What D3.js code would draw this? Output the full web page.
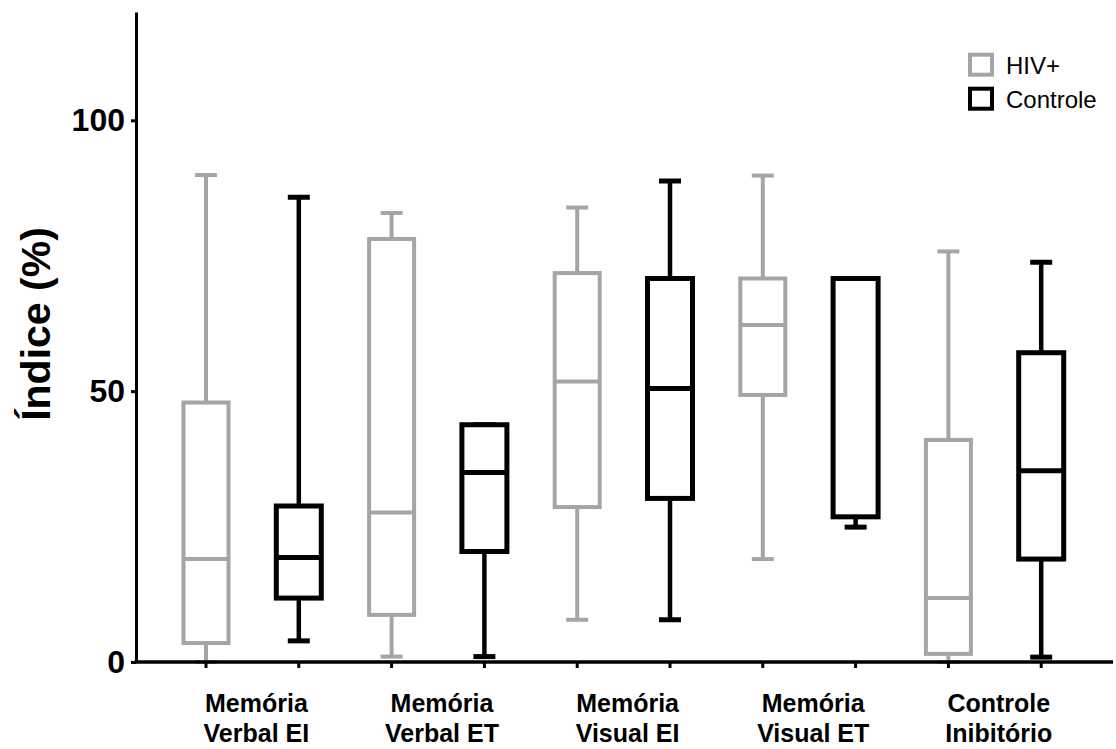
<!DOCTYPE html>
<html>
<head>
<meta charset="utf-8">
<script src="https://cdn.jsdelivr.net/npm/d3@7"></script>
<style>
  html, body { margin: 0; padding: 0; background: #fff; }
  svg { display: block; }
  text { font-family: "Liberation Sans", Arial, Helvetica, sans-serif; }
</style>
</head>
<body>
<svg id="chart" width="1116" height="749"></svg>
<script>
// Task categories (two-line labels under the x axis)
const categories = ["Memória Verbal EI", "Memória Verbal ET", "Memória Visual EI", "Memória Visual ET", "Controle Inibitório"];
const categoryLines = [["Memória", "Verbal EI"], ["Memória", "Verbal ET"], ["Memória", "Visual EI"], ["Memória", "Visual ET"], ["Controle", "Inibitório"]];
const series = ["HIV+", "Controle"];

// Five-number summaries per category, HIV+ group
const hivMin    = [0.0, 1.0, 7.8, 19.0, 0.0];
const hivQ1     = [3.5, 8.7, 28.6, 49.3, 1.5];
const hivMedian = [19.0, 27.6, 51.8, 62.2, 11.8];
const hivQ3     = [47.9, 78.1, 71.8, 70.8, 41.0];
const hivMax    = [89.9, 82.9, 83.9, 89.8, 75.8];

// Five-number summaries per category, control group
const ctrlMin    = [3.9, 1.0, 7.8, 24.9, 0.9];
const ctrlQ1     = [11.8, 20.4, 30.2, 26.8, 19.0];
const ctrlMedian = [19.3, 35.0, 50.5, 70.8, 35.3];
const ctrlQ3     = [28.8, 43.8, 70.8, 70.8, 57.1];
const ctrlMax    = [85.8, 43.8, 88.8, 70.8, 73.8];

const yTicks = [0, 50, 100];
const yTitle = "Índice (%)";

const colors = { "HIV+": "#a5a5a8", "Controle": "#000000" };
const boxStroke = { "HIV+": 4, "Controle": 5 };
const whiskerStroke = { "HIV+": 4, "Controle": 4.5 };

const boxes = [];
categories.forEach((c, i) => {
  boxes.push({ cat: c, series: "HIV+", min: hivMin[i], q1: hivQ1[i], med: hivMedian[i], q3: hivQ3[i], max: hivMax[i] });
  boxes.push({ cat: c, series: "Controle", min: ctrlMin[i], q1: ctrlQ1[i], med: ctrlMedian[i], q3: ctrlQ3[i], max: ctrlMax[i] });
});

const svg = d3.select("#chart");

const plotLeft = 136, plotRight = 1113, plotTop = 12, plotBottom = 662;

const y = d3.scaleLinear().domain([0, 120]).range([plotBottom, plotTop]);
const x0 = d3.scaleBand().domain(categories).range([159.6, 1087.6]).padding(0);
const x1 = d3.scaleBand().domain(series).range([0, x0.bandwidth()]).padding(0);
const cx = d => x0(d.cat) + x1(d.series) + x1.bandwidth() / 2;

const boxW = 45, capW = 22;

const g = svg.append("g");

// whiskers
g.selectAll("line.whisker-low").data(boxes).join("line")
  .attr("x1", cx).attr("x2", cx)
  .attr("y1", d => y(d.min)).attr("y2", d => y(d.q1))
  .attr("stroke", d => colors[d.series]).attr("stroke-width", d => whiskerStroke[d.series]);
g.selectAll("line.whisker-high").data(boxes).join("line")
  .attr("x1", cx).attr("x2", cx)
  .attr("y1", d => y(d.q3)).attr("y2", d => y(d.max))
  .attr("stroke", d => colors[d.series]).attr("stroke-width", d => whiskerStroke[d.series]);

// whisker caps
["min", "max"].forEach(k => {
  g.selectAll("line.cap-" + k).data(boxes).join("line")
    .attr("x1", d => cx(d) - capW / 2).attr("x2", d => cx(d) + capW / 2)
    .attr("y1", d => y(d[k])).attr("y2", d => y(d[k]))
    .attr("stroke", d => colors[d.series]).attr("stroke-width", d => boxStroke[d.series]);
});

// boxes
g.selectAll("rect.box").data(boxes).join("rect")
  .attr("x", d => cx(d) - boxW / 2)
  .attr("width", boxW)
  .attr("y", d => y(d.q3))
  .attr("height", d => y(d.q1) - y(d.q3))
  .attr("fill", "#fff")
  .attr("stroke", d => colors[d.series])
  .attr("stroke-width", d => boxStroke[d.series]);

// medians
g.selectAll("line.median").data(boxes).join("line")
  .attr("x1", d => cx(d) - boxW / 2).attr("x2", d => cx(d) + boxW / 2)
  .attr("y1", d => y(d.med)).attr("y2", d => y(d.med))
  .attr("stroke", d => colors[d.series]).attr("stroke-width", d => boxStroke[d.series]);

// y axis
const yAxis = svg.append("g")
  .attr("transform", `translate(${plotLeft},0)`)
  .call(d3.axisLeft(y).tickValues(yTicks).tickSize(5).tickSizeOuter(0).tickPadding(6));
yAxis.select(".domain").attr("stroke", "#000").attr("stroke-width", 3);
yAxis.selectAll(".tick line").attr("stroke", "#000").attr("stroke-width", 3);
yAxis.selectAll(".tick text")
  .attr("fill", "#000")
  .style("font-family", "'Liberation Sans', Arial, sans-serif")
  .style("font-weight", "bold")
  .style("font-size", "32px");

// x axis line and ticks under each box
svg.append("line")
  .attr("x1", plotLeft - 1.5).attr("x2", plotRight)
  .attr("y1", plotBottom).attr("y2", plotBottom)
  .attr("stroke", "#000").attr("stroke-width", 3.5);
svg.append("g").selectAll("line").data(boxes).join("line")
  .attr("x1", cx).attr("x2", cx)
  .attr("y1", plotBottom).attr("y2", plotBottom + 6)
  .attr("stroke", "#000").attr("stroke-width", 3);

// category labels
const labels = svg.append("g").selectAll("text").data(categories).join("text")
  .attr("x", d => x0(d) + x0.bandwidth() / 2 + 4)
  .attr("y", 712)
  .attr("text-anchor", "middle")
  .style("font-weight", "bold")
  .style("font-size", "25px")
  .attr("fill", "#000");
labels.each(function(d, i) {
  const t = d3.select(this);
  categoryLines[i].forEach((line, j) => {
    t.append("tspan")
      .attr("x", x0(d) + x0.bandwidth() / 2 + 4)
      .attr("dy", j === 0 ? 0 : 30)
      .text(line);
  });
});

// y title
svg.append("text")
  .attr("transform", "translate(50,324) rotate(-90)")
  .attr("text-anchor", "middle")
  .style("font-weight", "bold")
  .style("font-size", "41px")
  .attr("fill", "#000")
  .text(yTitle);

// legend
const legend = svg.append("g").selectAll("g").data(series).join("g")
  .attr("transform", (d, i) => `translate(981,${64.7 + i * 34})`);
legend.append("rect")
  .attr("x", -11).attr("y", -10).attr("width", 22).attr("height", 20)
  .attr("fill", "#fff")
  .attr("stroke", d => colors[d])
  .attr("stroke-width", 4);
legend.append("text")
  .attr("x", 25).attr("y", 9)
  .style("font-size", "24px")
  .attr("fill", "#000")
  .text(d => d);
</script>
</body>
</html>
